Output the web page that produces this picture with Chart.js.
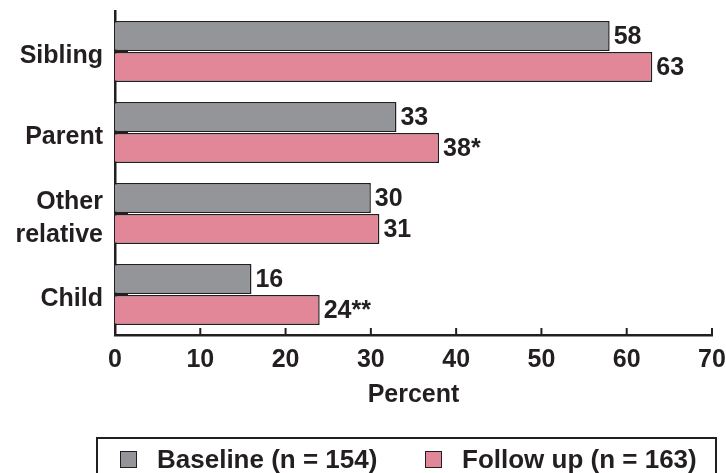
<!DOCTYPE html>
<html>
<head>
<meta charset="utf-8">
<script src="https://cdn.jsdelivr.net/npm/chart.js@4.4.0/dist/chart.umd.min.js"></script>
<style>
  html, body { margin: 0; padding: 0; background: #fff; }
  #wrap { position: relative; width: 726px; height: 473px; overflow: hidden; }
  #chart { position: absolute; left: 0; top: 0; }
  #legend {
    position: absolute; left: 96px; top: 437px; width: 621px; height: 50px;
    border: 2px solid #231f20; box-sizing: border-box;
    font-family: "Liberation Sans", Arial, sans-serif; font-weight: bold; font-size: 26px;
    color: #231f20;
  }
  .item { position: absolute; top: 5px; display: flex; align-items: center; white-space: nowrap; }
  .box { width: 15px; height: 15px; border: 1px solid #231f20; margin-right: 20px; }
</style>
</head>
<body>
<div id="wrap">
  <canvas id="chart" width="726" height="473"></canvas>
  <div id="legend"></div>
</div>
<script>
const categories = ["Sibling", "Parent", ["Other", "relative"], "Child"];
const baseline = [58, 33, 30, 16];
const followUp = [63, 38, 31, 24];
const baselineMarks = ["", "", "", ""];
const followUpMarks = ["", "*", "", "**"];
const xTicks = [0, 10, 20, 30, 40, 50, 60, 70];
const seriesNames = ["Baseline (n = 154)", "Follow up (n = 163)"];
const colors = ["#939598", "#e28797"];
const ink = "#231f20";
const font = "Liberation Sans, Arial, sans-serif";

// legend in html, boxed like the original
const legendDiv = document.getElementById("legend");
const legendLeft = [22, 327];
seriesNames.forEach((name, i) => {
  const item = document.createElement("div");
  item.className = "item";
  item.style.left = legendLeft[i] + "px";
  item.innerHTML = `<span class="box" style="background:${colors[i]}"></span><span>${name}</span>`;
  legendDiv.appendChild(item);
});

// short ticks pointing into the plot + value labels
const innerTicks = {
  id: "innerTicks",
  afterDatasetsDraw(chart) {
    const { ctx, chartArea, scales } = chart;
    ctx.save();
    ctx.strokeStyle = ink;
    ctx.lineWidth = 3;
    categories.forEach((c, i) => {
      const y = scales.y.getPixelForTick(i);
      ctx.beginPath();
      ctx.moveTo(chartArea.left, y);
      ctx.lineTo(chartArea.left + 13, y);
      ctx.stroke();
    });
    ctx.lineWidth = 2;
    xTicks.slice(1).forEach((v) => {
      const x = scales.x.getPixelForValue(v);
      ctx.beginPath();
      ctx.moveTo(x, chartArea.bottom);
      ctx.lineTo(x, chartArea.bottom - 7);
      ctx.stroke();
    });

    ctx.fillStyle = ink;
    ctx.font = "bold 25px " + font;
    ctx.textBaseline = "middle";
    ctx.textAlign = "left";
    const marks = [baselineMarks, followUpMarks];
    chart.data.datasets.forEach((ds, di) => {
      chart.getDatasetMeta(di).data.forEach((bar, i) => {
        ctx.fillText(ds.data[i] + marks[di][i], bar.x + 4, bar.y + 1);
      });
    });
    ctx.restore();
  },
};

new Chart(document.getElementById("chart"), {
  type: "bar",
  data: {
    labels: categories,
    datasets: [
      {
        label: seriesNames[0],
        data: baseline,
        backgroundColor: colors[0],
        borderColor: ink,
        borderWidth: 1.5,
        borderSkipped: "left",
      },
      {
        label: seriesNames[1],
        data: followUp,
        backgroundColor: colors[1],
        borderColor: ink,
        borderWidth: 1.5,
        borderSkipped: "left",
      },
    ],
  },
  options: {
    indexAxis: "y",
    responsive: false,
    animation: false,
    layout: { padding: { top: 11, right: 14, bottom: 0, left: 0 } },
    datasets: { bar: { categoryPercentage: 0.765, barPercentage: 0.968 } },
    plugins: { legend: { display: false }, tooltip: { enabled: false } },
    scales: {
      x: {
        min: 0,
        max: 70,
        afterBuildTicks: (s) => { s.ticks = xTicks.map((v) => ({ value: v })); },
        afterFit: (s) => {
          s.height = 138;
          s.paddingLeft = 0;
          s.paddingRight = 0;
        },
        grid: { display: false },
        border: { display: true, color: ink, width: 2.5 },
        ticks: { color: ink, padding: 2, font: { family: font, size: 25, weight: "bold" } },
        title: {
          display: true,
          text: "Percent",
          color: ink,
          padding: { top: 0, bottom: 63 },
          font: { family: font, size: 25, weight: "bold" },
        },
      },
      y: {
        afterFit: (s) => {
          s.width = 115;
          s.paddingTop = 0;
          s.paddingBottom = 0;
        },
        grid: { display: false },
        border: { display: true, color: ink, width: 2.5 },
        ticks: {
          color: ink,
          padding: 4,
          labelOffset: 5,
          font: { family: font, size: 25, weight: "bold", lineHeight: 1.32 },
        },
      },
    },
  },
  plugins: [innerTicks],
});
</script>
</body>
</html>
